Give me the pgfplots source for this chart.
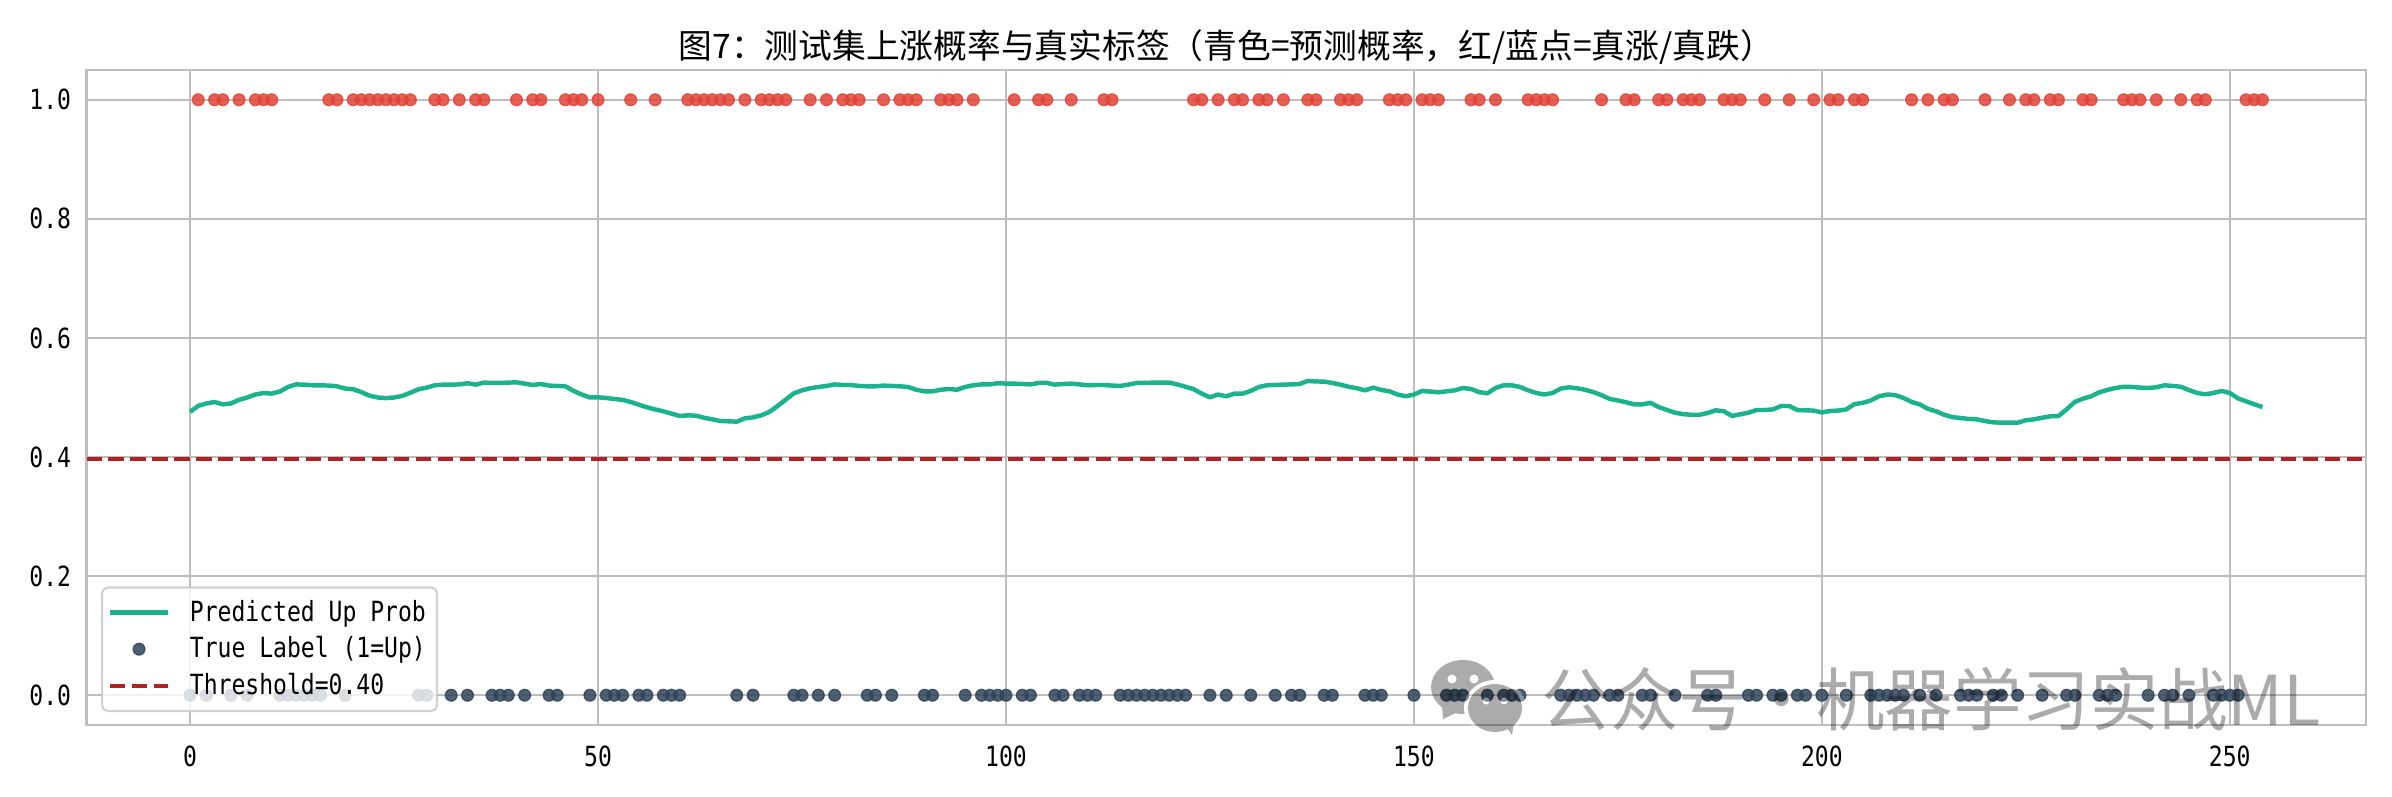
\documentclass[border=0pt]{standalone}
\usepackage{fontspec}
\setmainfont{DejaVu Sans Mono}[FakeStretch=0.83]
\newfontfamily\cjk{Noto Sans CJK SC}
\usepackage{pgfplots}
\pgfplotsset{compat=1.18}

\definecolor{gridc}{RGB}{190,190,190}
\definecolor{probc}{RGB}{26,179,141}
\definecolor{upc}{RGB}{226,68,56}
\definecolor{downc}{RGB}{48,68,90}
\definecolor{thrc}{RGB}{178,34,34}

\begin{document}
\begin{tikzpicture}
\path[use as bounding box] (0pt,0pt) rectangle (861.12pt,286.56pt);
\begin{axis}[
    at={(31.14pt,25.56pt)}, anchor=south west,
    width=820.62pt, height=235.8pt, scale only axis,
    xmin=-12.7, xmax=266.7, ymin=-0.05, ymax=1.05,
    xtick={0,50,100,150,200,250},
    ytick={0,0.2,0.4,0.6,0.8,1.0},
    /pgf/number format/assume math mode=true,
    /pgf/number format/fixed,
    yticklabel style={/pgf/number format/fixed zerofill,/pgf/number format/precision=1,font=\fontsize{10}{12}\selectfont,xshift=-2pt},
    xticklabel style={font=\fontsize{10}{12}\selectfont,yshift=-4pt},
    major tick length=0pt,
    grid=major,
    grid style={gridc,line width=0.8pt},
    axis line style={gridc,line width=1pt},
    title={\cjk 图7：测试集上涨概率与真实标签（青色=预测概率，红/蓝点=真涨/真跌）},
    title style={font=\fontsize{12.15}{14}\selectfont,at={(0.5,1)},anchor=south,yshift=-7.5pt},
    legend cell align=left,
    legend style={
        at={(0.00636,0.0198)}, anchor=south west,
        font=\fontsize{10}{12}\selectfont,
        draw=black!18, line width=0.8pt, rounded corners=2pt,
        fill=white, fill opacity=0.8, draw opacity=1, text opacity=1,
        inner xsep=2pt, inner ysep=2.5pt, row sep=0pt,
        /tikz/every odd column/.style={column sep=5pt},
    },
    legend image code/.code={
        \draw[mark repeat=2,mark phase=2,#1] plot coordinates {(0pt,0pt) (10.5pt,0pt) (21pt,0pt)};
    },
]
\addplot[probc, line width=1.6pt, line join=round] coordinates {
(0,.476) (1,.486) (2,.490) (3,.4925) (4,.4885) (5,.490) (6,.496) (7,.500) (8,.505) (9,.5076)
(10,.5065) (11,.510) (12,.5177) (13,.522) (14,.5216) (15,.5205) (16,.5205) (17,.520) (18,.5188) (19,.515)
(20,.5138) (21,.509) (22,.503) (23,.500) (24,.499) (25,.500) (26,.5026) (27,.508) (28,.5138) (29,.5166)
(30,.5205) (31,.5216) (32,.5216) (33,.522) (34,.524) (35,.5216) (36,.525) (37,.5244) (38,.5244) (39,.525)
(40,.5255) (41,.5233) (42,.521) (43,.5227) (44,.520) (45,.5194) (46,.5188) (47,.511) (48,.505) (49,.500)
(50,.5003) (51,.4992) (52,.4975) (53,.496) (54,.4925) (55,.488) (56,.4835) (57,.480) (58,.4768) (59,.473)
(60,.469) (61,.470) (62,.4695) (63,.466) (64,.4633) (65,.4605) (66,.460) (67,.4594) (68,.465) (69,.4667)
(70,.470) (71,.4757) (72,.4857) (73,.4964) (74,.507) (75,.512) (76,.5154) (77,.5177) (78,.5194) (79,.522)
(80,.521) (81,.521) (82,.5194) (83,.5188) (84,.5188) (85,.520) (86,.5194) (87,.5188) (88,.5177) (89,.513)
(90,.5104) (91,.5104) (92,.513) (93,.5143) (94,.513) (95,.5177) (96,.5205) (97,.522) (98,.522) (99,.524)
(100,.5233) (101,.5233) (102,.5227) (103,.522) (104,.5244) (105,.5244) (106,.5216) (107,.5227) (108,.5233) (109,.522)
(110,.5205) (111,.521) (112,.521) (113,.520) (114,.5194) (115,.5216) (116,.5244) (117,.5244) (118,.525) (119,.525)
(120,.525) (121,.522) (122,.518) (123,.514) (124,.5065) (125,.5003) (126,.505) (127,.502) (128,.5065) (129,.5065)
(130,.511) (131,.5177) (132,.5205) (133,.521) (134,.5216) (135,.522) (136,.5227) (137,.5278) (138,.527) (139,.5266)
(140,.5244) (141,.5216) (142,.518) (143,.5155) (144,.512) (145,.5166) (146,.5127) (147,.5104) (148,.505) (149,.502)
(150,.505) (151,.511) (152,.510) (153,.5087) (154,.5104) (155,.512) (156,.516) (157,.5143) (158,.509) (159,.507)
(160,.516) (161,.5205) (162,.5205) (163,.5177) (164,.512) (165,.5076) (166,.505) (167,.5076) (168,.515) (169,.5171)
(170,.5154) (171,.513) (172,.509) (173,.504) (174,.4975) (175,.495) (176,.492) (177,.4885) (178,.4885) (179,.491)
(180,.484) (181,.479) (182,.4745) (183,.472) (184,.471) (185,.471) (186,.474) (187,.4785) (188,.4768) (189,.469)
(190,.4717) (191,.4745) (192,.479) (193,.479) (194,.480) (195,.4857) (196,.4857) (197,.479) (198,.4785) (199,.478)
(200,.475) (201,.4773) (202,.478) (203,.480) (204,.489) (205,.491) (206,.495) (207,.502) (208,.505) (209,.504)
(210,.4992) (211,.4925) (212,.4885) (213,.481) (214,.4768) (215,.471) (216,.467) (217,.4656) (218,.464) (219,.4633)
(220,.4605) (221,.4583) (222,.4577) (223,.4577) (224,.4577) (225,.4617) (226,.4633) (227,.466) (228,.4684) (229,.469)
(230,.480) (231,.4925) (232,.498) (233,.502) (234,.5087) (235,.5127) (236,.516) (237,.518) (238,.5177) (239,.5166)
(240,.516) (241,.5171) (242,.5205) (243,.5194) (244,.518) (245,.5125) (246,.5076) (247,.5054) (248,.5076) (249,.511)
(250,.5076) (251,.4986) (252,.4936) (253,.4886) (254,.484)
};
\addlegendentry{Predicted Up Prob}
% true up
\addplot[only marks, forget plot, mark=*, mark size=2.1pt,
    mark options={fill=upc, draw=upc, line width=0.5pt, opacity=0.85}] coordinates {
(1,1) (3,1) (4,1) (6,1) (8,1) (9,1) (10,1) (17,1) (18,1) (20,1) (21,1) (22,1) (23,1) (24,1) (25,1) (26,1) (27,1)
(30,1) (31,1) (33,1) (35,1) (36,1) (40,1) (42,1) (43,1) (46,1) (47,1) (48,1) (50,1) (54,1) (57,1)
(61,1) (62,1) (63,1) (64,1) (65,1) (66,1) (68,1) (70,1) (71,1) (72,1) (73,1) (76,1) (78,1)
(80,1) (81,1) (82,1) (85,1) (87,1) (88,1) (89,1) (92,1) (93,1) (94,1) (96,1) (101,1) (104,1) (105,1) (108,1) (112,1) (113,1)
(123,1) (124,1) (126,1) (128,1) (129,1) (131,1) (132,1) (134,1) (137,1) (138,1) (141,1) (142,1) (143,1) (147,1) (148,1) (149,1)
(151,1) (152,1) (153,1) (157,1) (158,1) (160,1) (164,1) (165,1) (166,1) (167,1) (173,1) (176,1) (177,1) (180,1) (181,1)
(183,1) (184,1) (185,1) (188,1) (189,1) (190,1) (193,1) (196,1) (199,1) (201,1) (202,1) (204,1) (205,1)
(211,1) (213,1) (215,1) (216,1) (220,1) (223,1) (225,1) (226,1) (228,1) (229,1) (232,1) (233,1) (237,1) (238,1) (239,1)
(241,1) (244,1) (246,1) (247,1) (252,1) (253,1) (254,1)
};
% true down
\addplot[only marks, mark=*, mark size=2.1pt,
    mark options={fill=downc, draw=downc, line width=0.5pt, opacity=0.85}] coordinates {
(0,0) (2,0) (5,0) (7,0) (11,0) (12,0) (13,0) (14,0) (15,0) (16,0) (19,0) (28,0) (29,0) (32,0) (34,0) (37,0) (38,0) (39,0)
(41,0) (44,0) (45,0) (49,0) (51,0) (52,0) (53,0) (55,0) (56,0) (58,0) (59,0) (60,0) (67,0) (69,0) (74,0) (75,0) (77,0) (79,0)
(83,0) (84,0) (86,0) (90,0) (91,0) (95,0) (97,0) (98,0) (99,0) (100,0) (102,0) (103,0) (106,0) (107,0) (109,0) (110,0) (111,0)
(114,0) (115,0) (116,0) (117,0) (118,0) (119,0) (120,0) (121,0) (122,0) (125,0) (127,0) (130,0) (133,0) (135,0) (136,0)
(139,0) (140,0) (144,0) (145,0) (146,0) (150,0) (154,0) (155,0) (156,0) (159,0) (161,0) (162,0) (163,0)
(168,0) (169,0) (170,0) (171,0) (172,0) (174,0) (175,0) (178,0) (179,0) (182,0) (186,0) (187,0) (191,0) (192,0) (194,0) (195,0)
(197,0) (198,0) (200,0) (203,0) (206,0) (207,0) (208,0) (209,0) (210,0) (212,0) (214,0) (217,0) (218,0) (219,0) (221,0) (222,0)
(224,0) (227,0) (230,0) (231,0) (234,0) (235,0) (236,0) (240,0) (242,0) (243,0) (245,0) (248,0) (249,0) (250,0) (251,0)
};
\addlegendentry{True Label (1=Up)}
\addplot[thrc, line width=1.5pt, dash pattern=on 5.5pt off 2.4pt] coordinates {(-12.7,0.397) (266.7,0.397)};
\addlegendentry{Threshold=0.40}
\end{axis}
% watermark, coordinates in reference pixels
\begin{scope}[x=0.36pt,y=-0.36pt,yshift=286.56pt]
\begin{scope}[transparency group,opacity=0.33]
\fill[black] (1463,687) ellipse [x radius=32, y radius=27];
\fill[black] (1442,705) -- (1443,719) -- (1462,710) -- cycle;
\fill[white] (1495,708) ellipse [x radius=31, y radius=28];
\fill[black] (1495,708) ellipse [x radius=27, y radius=24];
\fill[black] (1505,725) -- (1512,735) -- (1514,722) -- cycle;
\fill[white] (1452,679) circle (4.5);
\fill[white] (1474,679) circle (4.5);
\fill[white] (1486,701) circle (3.5);
\fill[white] (1504,701) circle (3.5);
\end{scope}
\node[anchor=west, inner sep=0pt, opacity=0.33, text=black, font=\fontsize{24.7}{28}\selectfont\cjk] at (1541,699) {公众号・机器学习实战ML};
\end{scope}
\end{tikzpicture}
\end{document}
